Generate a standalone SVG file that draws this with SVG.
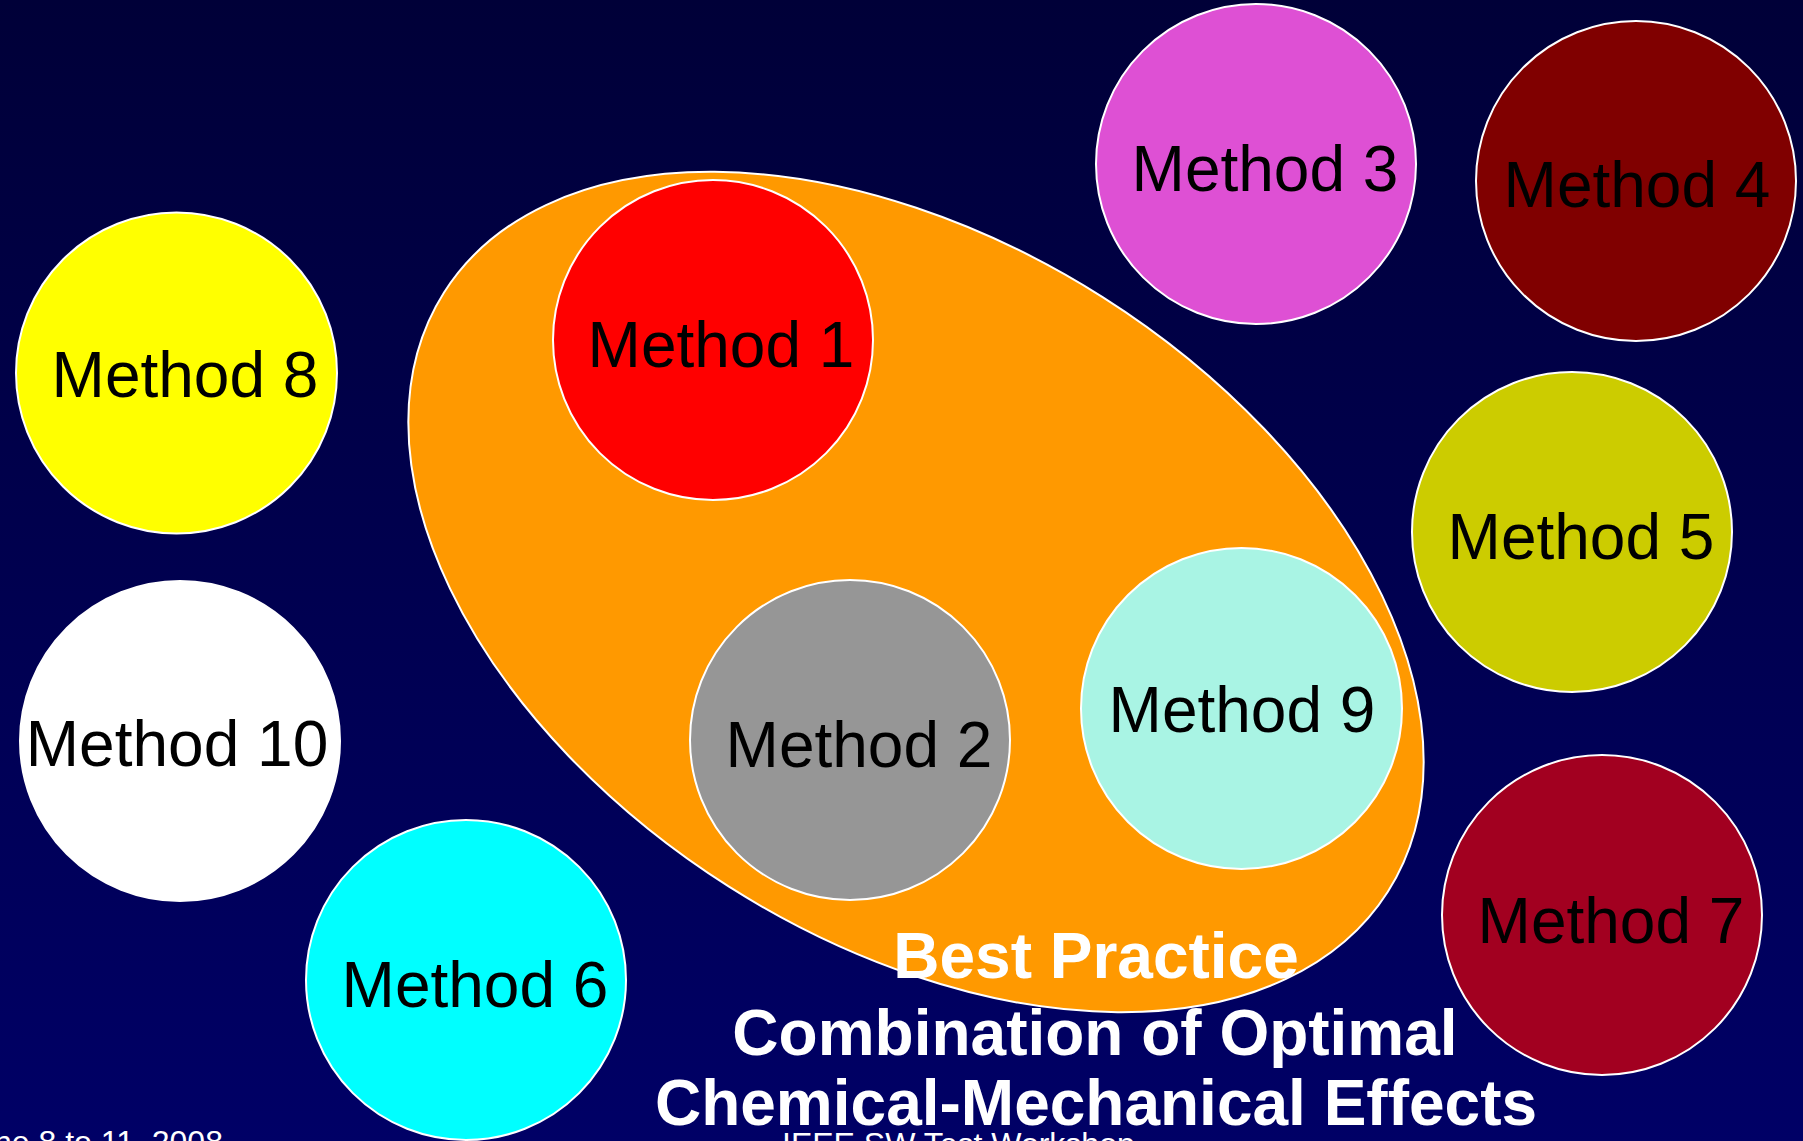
<svg xmlns="http://www.w3.org/2000/svg" width="1803" height="1141" viewBox="0 0 1803 1141">
  <defs>
    <linearGradient id="bg" x1="0" y1="0" x2="0" y2="1">
      <stop offset="0" stop-color="#000038"/>
      <stop offset="1" stop-color="#000066"/>
    </linearGradient>
  </defs>
  <style>
    .disc { stroke: #ffffff; stroke-width: 2; }
    .label { font-family: "Liberation Sans", Arial, sans-serif; font-size: 64px; fill: #000000; text-anchor: middle; }
    .heading { font-family: "Liberation Sans", Arial, sans-serif; font-size: 64px; font-weight: bold; fill: #ffffff; text-anchor: middle; }
    .footer { font-family: "Liberation Sans", Arial, sans-serif; font-size: 32px; fill: #ffffff; }
  </style>

  <rect x="0" y="0" width="1803" height="1141" fill="url(#bg)"/>

  <!-- best-practice envelope -->
  <g id="best-practice">
    <ellipse class="disc" cx="916" cy="592" rx="559" ry="349" transform="rotate(32.4 916 592)" fill="#ff9900"/>
  </g>

  <g id="method-1">
    <circle class="disc" cx="713" cy="340" r="160" fill="#ff0000"/>
    <text class="label" x="721" y="367">Method 1</text>
  </g>
  <g id="method-2">
    <circle class="disc" cx="850" cy="740" r="160" fill="#969696"/>
    <text class="label" x="859" y="767">Method 2</text>
  </g>
  <g id="method-3">
    <circle class="disc" cx="1256" cy="164" r="160" fill="#de50d4"/>
    <text class="label" x="1265" y="191">Method 3</text>
  </g>
  <g id="method-4">
    <circle class="disc" cx="1636" cy="181" r="160" fill="#800000"/>
    <text class="label" x="1637" y="207">Method 4</text>
  </g>
  <g id="method-5">
    <circle class="disc" cx="1572" cy="532" r="160" fill="#cccc00"/>
    <text class="label" x="1581" y="559">Method 5</text>
  </g>
  <g id="method-6">
    <circle class="disc" cx="466" cy="980" r="160" fill="#00ffff"/>
    <text class="label" x="475" y="1007">Method 6</text>
  </g>
  <g id="method-7">
    <circle class="disc" cx="1602" cy="915" r="160" fill="#a20020"/>
    <text class="label" x="1611" y="943">Method 7</text>
  </g>
  <g id="method-8">
    <circle class="disc" cx="176.5" cy="373" r="160.5" fill="#ffff00"/>
    <text class="label" x="185" y="397">Method 8</text>
  </g>
  <g id="method-9">
    <circle class="disc" cx="1241.5" cy="708.5" r="160.5" fill="#a9f4e4"/>
    <text class="label" x="1242" y="732">Method 9</text>
  </g>
  <g id="method-10">
    <circle class="disc" cx="180" cy="741" r="160" fill="#ffffff"/>
    <text class="label" x="177" y="766">Method 10</text>
  </g>

  <g id="connectors"/>

  <!-- caption -->
  <g id="caption">
    <text class="heading" x="1096" y="978">Best Practice</text>
    <text class="heading" x="1095" y="1055">Combination of Optimal</text>
    <text class="heading" x="1096" y="1125">Chemical-Mechanical Effects</text>
  </g>

  <!-- footer -->
  <g id="footer">
    <text class="footer" x="-6" y="1153">ne 8 to 11, 2008</text>
    <text class="footer" x="782" y="1155">IEEE SW Test Workshop</text>
  </g>
</svg>
